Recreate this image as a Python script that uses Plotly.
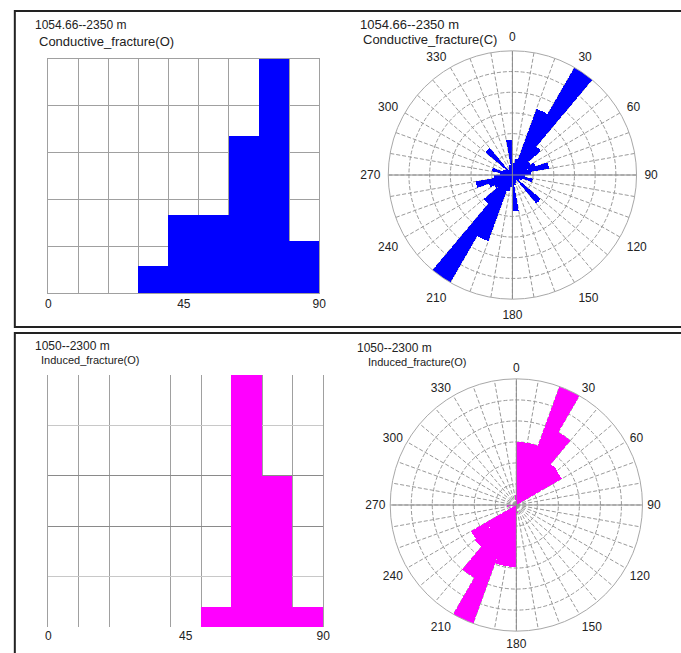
import plotly.graph_objects as go

# ---------------- data ----------------
dip_bin_centers = [5, 15, 25, 35, 45, 55, 65, 75, 85]
dip_tick_vals = [0, 45, 90]
dip_tick_text = ["0", "45", "90"]

conductive_dip = [0, 0, 0, 0.57, 1.67, 1.67, 3.36, 5.0, 1.12]
induced_dip = [0, 0, 0, 0, 0, 0.39, 5.0, 3.0, 0.39]

strike_bin_centers = [5, 15, 25, 35, 45, 55, 65, 75, 85, 95, 105, 115,
                      125, 135, 145, 155, 165, 175, 185, 195, 205, 215, 225, 235,
                      245, 255, 265, 275, 285, 295, 305, 315, 325, 335, 345, 355]

conductive_strike = [0.6, 0.8, 3.4, 6.0, 1.8, 1.0, 1.2, 1.8, 0.9, 0.6, 1.0, 0.5,
                     0.4, 1.8, 0.3, 0.4, 0.5, 1.75, 0.6, 0.8, 3.4, 6.0, 1.8, 1.0,
                     1.2, 1.8, 0.9, 0.6, 1.0, 0.5, 0.4, 1.7, 0.3, 0.4, 0.5, 1.7]

induced_strike = [3.0, 3.0, 6.0, 4.0, 2.55, 2.5, 0, 0, 0, 0, 0, 0,
                  0, 0, 0, 0, 0, 0.4, 2.95, 2.95, 6.0, 4.0, 2.6, 2.5,
                  0, 0, 0.45, 0, 0, 0, 0, 0, 0, 0, 0, 0.5]

rose_tick_vals = [0, 10, 20, 30, 40, 50, 60, 70, 80, 90, 100, 110,
                  120, 130, 140, 150, 160, 170, 180, 190, 200, 210, 220, 230,
                  240, 250, 260, 270, 280, 290, 300, 310, 320, 330, 340, 350]
rose_tick_text = ["0", "", "", "30", "", "", "60", "", "", "90", "", "",
                  "120", "", "", "150", "", "", "180", "", "", "210", "", "",
                  "240", "", "", "270", "", "", "300", "", "", "330", "", ""]

top_depth = "1054.66--2350 m"
top_name = "Conductive_fracture(O)"
top_rose_name = "Conductive_fracture(C)"
bot_depth = "1050--2300 m"
bot_name = "Induced_fracture(O)"

# ---------------- layout helpers ----------------
W, H = 681, 653


def fx(px):
    return px / W


def fy(py):
    return 1 - py / H


FONT = "Arial, Liberation Sans, sans-serif"
BLUE = "#0000ff"
MAGENTA = "#ff00ff"
GRID = "#a0a0a0"

fig = go.Figure()

# histograms
fig.add_trace(go.Bar(x=dip_bin_centers, y=conductive_dip, width=10,
                     marker=dict(color=BLUE, line=dict(width=0)),
                     xaxis="x", yaxis="y", showlegend=False, hoverinfo="skip"))
fig.add_trace(go.Bar(x=dip_bin_centers, y=induced_dip, width=10,
                     marker=dict(color=MAGENTA, line=dict(width=0)),
                     xaxis="x2", yaxis="y2", showlegend=False, hoverinfo="skip"))

# roses
fig.add_trace(go.Barpolar(r=conductive_strike, theta=strike_bin_centers, width=10,
                          marker=dict(color=BLUE, line=dict(width=0)),
                          subplot="polar", showlegend=False, hoverinfo="skip"))
fig.add_trace(go.Barpolar(r=induced_strike, theta=strike_bin_centers, width=10,
                          marker=dict(color=MAGENTA, line=dict(width=0)),
                          subplot="polar2", showlegend=False, hoverinfo="skip"))

# main N-S and E-W axis lines on the roses
for sp in ["polar", "polar2"]:
    for a, b in [(0, 180), (90, 270)]:
        fig.add_trace(go.Scatterpolar(r=[6, 0, 6], theta=[a, a, b], mode="lines",
                                      line=dict(color="#8c8c8c", width=1),
                                      subplot=sp, showlegend=False, hoverinfo="skip"))

tickfont = dict(family=FONT, size=12, color="#222222")

hist_x_common = dict(range=[0, 90], tickmode="array", tickvals=dip_tick_vals,
                     ticktext=dip_tick_text, showgrid=False, zeroline=False,
                     ticks="", tickfont=tickfont, layer="above traces",
                     fixedrange=True)

fig.update_layout(
    width=W, height=H, autosize=False,
    margin=dict(l=0, r=0, t=0, b=0),
    paper_bgcolor="white", plot_bgcolor="white",
    bargap=0,
    xaxis=dict(domain=[fx(46), fx(321)], anchor="y",
               showline=True, mirror=True, linecolor=GRID, linewidth=1,
               minor=dict(tickmode="array", tickvals=[10, 20, 30, 40, 50, 60, 70, 80],
                          showgrid=True, gridcolor=GRID, gridwidth=1, ticks=""),
               **hist_x_common),
    yaxis=dict(domain=[fy(293), fy(59)], anchor="x", range=[0, 5],
               tickvals=[1, 2, 3, 4], showticklabels=False, ticks="",
               showgrid=True, gridcolor=GRID, gridwidth=1, zeroline=False,
               showline=True, mirror=True, linecolor=GRID, linewidth=1,
               layer="above traces", fixedrange=True),
    xaxis2=dict(domain=[fx(46), fx(325)], anchor="y2", showline=False,
                minor=dict(tickmode="array", tickvals=[10, 20, 40, 50, 60, 70, 80],
                           showgrid=True, gridcolor=GRID, gridwidth=1, ticks=""),
                **hist_x_common),
    yaxis2=dict(domain=[fy(627), fy(375)], anchor="x2", range=[0, 5],
                tickmode="array", tickvals=[2, 3], showticklabels=False, ticks="",
                showgrid=True, gridcolor="#8a8a8a", gridwidth=1, zeroline=False,
                minor=dict(tickmode="array", tickvals=[1, 4], showgrid=True,
                           gridcolor="#c8c8c8", gridwidth=1, ticks=""),
                showline=True, mirror=True, linecolor=GRID, linewidth=1,
                layer="above traces", fixedrange=True),
)


def polar_style(ticklen):
    return dict(
        bgcolor="white",
        angularaxis=dict(rotation=90, direction="clockwise", tickmode="array",
                         tickvals=rose_tick_vals, ticktext=rose_tick_text,
                         showgrid=True, gridcolor="#9a9a9a", gridwidth=1,
                         griddash="4px,2px",
                         showline=True, linecolor="#a8a8a8", linewidth=1,
                         ticks="outside", ticklen=ticklen, tickcolor="rgba(0,0,0,0)",
                         tickfont=tickfont, layer="above traces"),
        radialaxis=dict(range=[0, 6], tickmode="array", tickvals=[1, 2, 3, 4, 5],
                        showticklabels=False, angle=90, showgrid=True,
                        gridcolor="#9a9a9a", gridwidth=1, griddash="4px,2px",
                        showline=False, ticks="", layer="above traces"),
    )


fig.update_layout(
    polar=dict(domain=dict(x=[fx(391), fx(643)], y=[fy(301), fy(49)]), **polar_style(5)),
    polar2=dict(domain=dict(x=[fx(393), fx(649)], y=[fy(633), fy(377)]), **polar_style(2)),
)

# titles
titles = [
    (31, 25, top_depth, 12), (36, 42, top_name, 13),
    (361, 25, top_depth, 13), (364, 40, top_rose_name, 13),
    (31, 346, bot_depth, 12), (38, 360, bot_name, 11),
    (358, 348, bot_depth, 12), (369, 362, bot_name, 11),
]
for x, y, t, s in titles:
    fig.add_annotation(x=fx(x), y=fy(y), xref="paper", yref="paper", text=t,
                       showarrow=False, xanchor="left", yanchor="middle",
                       borderpad=0,
                       font=dict(family=FONT, size=s, color="#222222"))

# panel frames
fig.add_shape(type="rect", xref="paper", yref="paper",
              x0=fx(12), x1=fx(700), y0=fy(327), y1=fy(11),
              line=dict(color="#222222", width=2), layer="above")
fig.add_shape(type="rect", xref="paper", yref="paper",
              x0=fx(12), x1=fx(700), y0=fy(680), y1=fy(333),
              line=dict(color="#222222", width=2), layer="above")

fig.write_html("out.html",
               config={"displayModeBar": False},
               post_script="document.body.style.margin='0';"
                           "document.body.style.padding='0';"
                           "document.body.style.overflow='hidden';")
